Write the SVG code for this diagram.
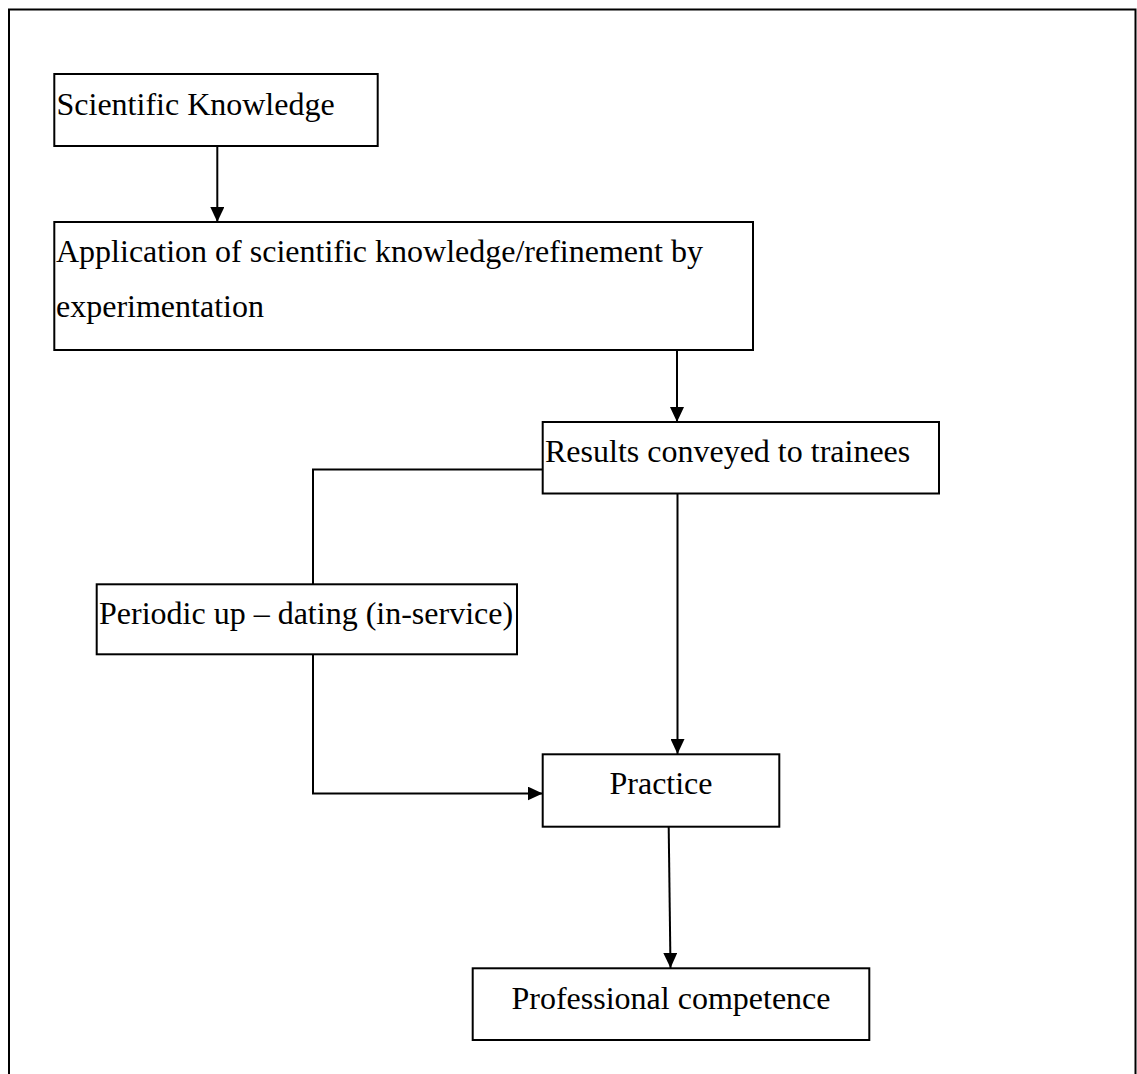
<svg xmlns="http://www.w3.org/2000/svg" width="1137" height="1074" viewBox="0 0 1137 1074">
  <style>
    .box { fill: #ffffff; stroke: #000000; stroke-width: 2; }
    .lbl { font-family: "Liberation Serif", "Times New Roman", serif; font-size: 32px; fill: #000000; }
    .mid { text-anchor: middle; }
    .conn { fill: none; stroke: #000000; stroke-width: 2; }
    .frame { fill: none; stroke: #000000; stroke-width: 2; }
  </style>
  <defs>
    <marker id="arrow" viewBox="0 0 15 14" refX="15" refY="7" markerWidth="15" markerHeight="14" markerUnits="userSpaceOnUse" orient="auto">
      <path d="M0,0 L15,7 L0,14 Z" fill="#000000"/>
    </marker>
  </defs>
  <rect width="1137" height="1074" fill="#ffffff"/>
  <rect class="frame" x="9" y="9.5" width="1126.5" height="1100"/>

  <g id="connectors">
    <line class="conn" x1="217.3" y1="146" x2="217.3" y2="222" marker-end="url(#arrow)"/>
    <line class="conn" x1="677" y1="350" x2="677" y2="422" marker-end="url(#arrow)"/>
    <line class="conn" x1="677.5" y1="494" x2="677.5" y2="754" marker-end="url(#arrow)"/>
    <polyline class="conn" points="542.7,469.5 313,469.5 313,584"/>
    <polyline class="conn" points="313,654 313,793.5 542.7,793.5" marker-end="url(#arrow)"/>
    <line class="conn" x1="668.7" y1="827" x2="670.5" y2="968" marker-end="url(#arrow)"/>
  </g>

  <g id="node-scientific-knowledge">
    <rect class="box" x="54.3" y="74" width="323.4" height="72"/>
    <text class="lbl" x="56.5" y="115">Scientific Knowledge</text>
  </g>

  <g id="node-application">
    <rect class="box" x="54.3" y="222" width="698.7" height="128"/>
    <text class="lbl" x="56" y="262">Application of scientific knowledge/refinement by</text>
    <text class="lbl" x="56" y="317">experimentation</text>
  </g>

  <g id="node-results">
    <rect class="box" x="542.7" y="422" width="396.3" height="71.5"/>
    <text class="lbl" x="545" y="462">Results conveyed to trainees</text>
  </g>

  <g id="node-periodic">
    <rect class="box" x="96.7" y="584.3" width="420.3" height="70"/>
    <text class="lbl" x="99" y="624">Periodic up – dating (in-service)</text>
  </g>

  <g id="node-practice">
    <rect class="box" x="542.7" y="754.3" width="236.6" height="72.4"/>
    <text class="lbl mid" x="661" y="794">Practice</text>
  </g>

  <g id="node-professional-competence">
    <rect class="box" x="472.7" y="968.3" width="396.6" height="71.7"/>
    <text class="lbl mid" x="671" y="1009">Professional competence</text>
  </g>
</svg>
